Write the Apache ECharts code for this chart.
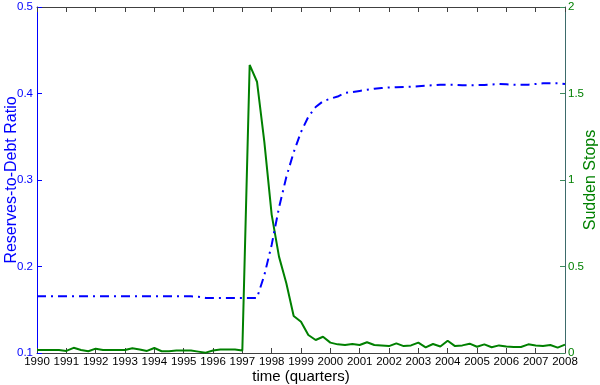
<!DOCTYPE html>
<html><head><meta charset="utf-8">
<script src="https://cdn.jsdelivr.net/npm/echarts@6/dist/echarts.min.js"></script>
<style>html,body{margin:0;padding:0;background:#fff}#c{width:600px;height:385px}</style>
</head><body><div id="c"></div>
<script>
// quarters 1990Q1 .. 2008Q1
var startYear = 1990, endYear = 2008;
var quarters = [];
for (var y = startYear; y <= endYear; y++) {
  for (var q = 1; q <= 4; q++) {
    if (y === endYear && q > 1) break;
    quarters.push(y + 'Q' + q);
  }
}
var reservesToDebt = [
  0.1655,0.1655,0.1655,0.1655,0.1655,0.1655,0.1655,0.1655,0.1655,0.1655,
  0.1655,0.1655,0.1655,0.1655,0.1655,0.1655,0.1655,0.1655,0.1655,0.1655,
  0.1655,0.1655,0.165,0.1637,0.1637,0.1637,0.1637,0.1637,0.1637,0.1637,
  0.1637,0.190,0.225,0.268,0.3035,0.332,0.3555,0.373,0.3844,0.391,
  0.394,0.3965,0.4006,0.4017,0.403,0.4043,0.4056,0.4064,0.407,0.4073,
  0.4076,0.4079,0.4084,0.4089,0.4096,0.4102,0.4102,0.4101,0.4096,0.4096,
  0.4097,0.4098,0.4104,0.411,0.4106,0.4102,0.4102,0.4102,0.411,0.4118,
  0.4118,0.4118,0.411
];
var suddenStops = [
  0.017,0.017,0.017,0.017,0.012,0.03,0.017,0.01,0.025,0.017,
  0.017,0.017,0.017,0.027,0.02,0.012,0.029,0.01,0.01,0.014,
  0.014,0.014,0.008,0.002,0.014,0.02,0.02,0.02,0.014,1.665,
  1.568,1.22,0.80,0.557,0.403,0.214,0.181,0.104,0.075,0.094,
  0.06,0.05,0.046,0.052,0.046,0.062,0.046,0.044,0.04,0.056,
  0.04,0.044,0.06,0.033,0.052,0.038,0.071,0.04,0.044,0.054,
  0.036,0.05,0.033,0.044,0.038,0.035,0.035,0.05,0.044,0.04,
  0.046,0.031,0.048
];
var leftTicks = {min: 0.1, max: 0.5, step: 0.1};
var rightTicks = {min: 0, max: 2, step: 0.5};

var font = 'Liberation Sans, Arial, sans-serif';
var chart = echarts.init(document.getElementById('c'), null, {renderer: 'canvas'});
chart.setOption({
  animation: false,
  backgroundColor: '#fff',
  grid: {left: 37, right: 35, top: 7, bottom: 32, containLabel: false, outerBoundsMode: 'none'},
  xAxis: [{
    type: 'category', data: quarters, boundaryGap: false, position: 'bottom',
    name: 'time (quarters)', nameLocation: 'middle', nameGap: 16, nameMoveOverlap: false,
    nameTextStyle: {color: '#000', fontSize: 15, fontFamily: font},
    axisLine: {lineStyle: {color: '#404040', width: 1}},
    axisTick: {inside: true, interval: 3, length: 5, lineStyle: {color: '#404040'}},
    axisLabel: {interval: 3, color: '#000', fontSize: 11.5, fontFamily: font, margin: 3,
      formatter: function (v) { return v.slice(0, 4); }},
    splitLine: {show: false}
  }, {
    type: 'category', data: quarters, boundaryGap: false, position: 'top',
    axisLine: {lineStyle: {color: '#404040', width: 1}},
    axisTick: {inside: true, interval: 3, length: 5, lineStyle: {color: '#404040'}},
    axisLabel: {show: false}, splitLine: {show: false}
  }],
  yAxis: [{
    type: 'value', min: leftTicks.min, max: leftTicks.max, interval: leftTicks.step, position: 'left',
    name: 'Reserves-to-Debt Ratio', nameLocation: 'middle', nameGap: 17, nameRotate: 90, nameMoveOverlap: false,
    nameTextStyle: {color: '#0000ff', fontSize: 16, fontFamily: font},
    axisLine: {show: true, lineStyle: {color: '#0000ff', width: 1}},
    axisTick: {show: true, inside: true, length: 5, lineStyle: {color: '#0000ff'}},
    axisLabel: {color: '#0000ff', fontSize: 11.5, fontFamily: font, margin: 4,
      formatter: function (v) { return (Math.round(v * 10) / 10).toString(); }},
    splitLine: {show: false}
  }, {
    type: 'value', min: rightTicks.min, max: rightTicks.max, interval: rightTicks.step, position: 'right',
    name: 'Sudden Stops', nameLocation: 'middle', nameGap: 18, nameRotate: 90, nameMoveOverlap: false,
    nameTextStyle: {color: '#008000', fontSize: 16, fontFamily: font},
    axisLine: {show: true, lineStyle: {color: '#3d6b6b', width: 1}},
    axisTick: {show: true, inside: true, length: 5, lineStyle: {color: '#3d8b5b'}},
    axisLabel: {color: '#008000', fontSize: 11.5, fontFamily: font, margin: 3},
    splitLine: {show: false}
  }],
  series: [{
    type: 'line', name: 'Sudden Stops', xAxisIndex: 0, yAxisIndex: 1, data: suddenStops,
    symbol: 'none', lineStyle: {color: '#008000', width: 2}
  }, {
    type: 'line', name: 'Reserves-to-Debt Ratio', xAxisIndex: 0, yAxisIndex: 0, data: reservesToDebt,
    symbol: 'none', lineStyle: {color: '#0000ff', width: 2, type: [9, 5, 2, 5]}
  }]
});
</script></body></html>
